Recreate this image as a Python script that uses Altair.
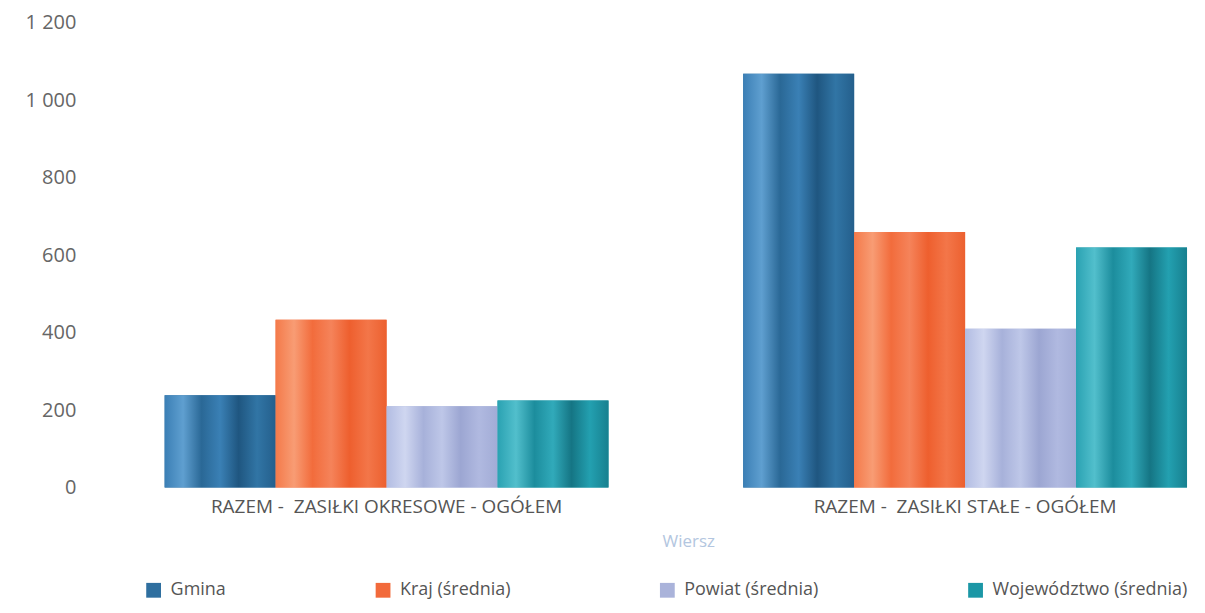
import altair as alt
import pandas as pd

categories = ["RAZEM -\u00a0 ZASIŁKI OKRESOWE - OGÓŁEM", "RAZEM -\u00a0 ZASIŁKI STAŁE - OGÓŁEM"]
series = ["Gmina", "Kraj (średnia)", "Powiat (średnia)", "Województwo (średnia)"]
gmina = [238, 1068]
kraj = [433, 660]
powiat = [210, 410]
wojewodztwo = [225, 620]

base_colors = ["#2f6f9f", "#f26a3b", "#aab3da", "#1b97a6"]
gradients = {
    "Gmina": ["#3b7fb5", "#5f9fd0", "#2a6896", "#3a80b5", "#1f5680", "#3175a5", "#245f8c"],
    "Kraj (średnia)": ["#f47a4a", "#f89c74", "#f26c3c", "#f5835a", "#ee5f2e", "#f37649", "#ec602f"],
    "Powiat (średnia)": ["#b2bce2", "#cfd6f0", "#a7b1da", "#bec7e8", "#9ca6d2", "#b0b9e0", "#a2acd6"],
    "Województwo (średnia)": ["#2aa2b2", "#52bfcc", "#1c8d9d", "#31aaba", "#157584", "#23a0b0", "#17808f"],
}

rows = []
for s, vals in zip(series, [gmina, kraj, powiat, wojewodztwo]):
    for c, v in zip(categories, vals):
        rows.append({"cat": c, "series": s, "value": v})
df = pd.DataFrame(rows)

FONT = "Open Sans"

x_enc = alt.X(
    "cat:N",
    sort=categories,
    scale=alt.Scale(paddingInner=0.2328, paddingOuter=0.069, align=0.9375),
    axis=alt.Axis(
        title="Wiersz",
        labelAngle=0,
        labelFontSize=19,
        labelColor="#555555",
        labelFont=FONT,
        labelPadding=10,
        labelLimit=600,
        titleFontSize=17,
        titleColor="#b3c6e0",
        titleFont=FONT,
        titleFontWeight="normal",
        titlePadding=17,
        titleX=600,
        ticks=False,
        domain=False,
    ),
)
xoff_enc = alt.XOffset("series:N", sort=series,
                       scale=alt.Scale(domain=series, paddingInner=0, paddingOuter=0))
y_enc = alt.Y(
    "value:Q",
    scale=alt.Scale(domain=[0, 1200], nice=False),
    axis=alt.Axis(
        title=None,
        values=[0, 200, 400, 600, 800, 1000, 1200],
        labelExpr="replace(format(datum.value, 'd'), /(\\d)(?=(\\d{3})$)/, '$1 ')",
        labelFontSize=20,
        labelColor="#666666",
        labelFont=FONT,
        labelPadding=14,
        ticks=False,
        domain=False,
        grid=False,
    ),
)

base = alt.Chart(df).encode(x=x_enc, xOffset=xoff_enc, y=y_enc)

bars = base.mark_bar().encode(
    color=alt.Color(
        "series:N",
        sort=series,
        scale=alt.Scale(domain=series, range=base_colors),
        legend=alt.Legend(
            title=None,
            orient="none",
            legendX=55,
            legendY=560,
            direction="horizontal",
            columns=4,
            columnPadding=148,
            gridAlign="none",
            symbolType="square",
            symbolSize=220,
            symbolStrokeWidth=0,
            labelFontSize=18,
            labelColor="#555555",
            labelFont=FONT,
            labelLimit=400,
            labelOffset=8,
        ),
    )
)

overlays = []
for s in series:
    cols = gradients[s]
    n = len(cols)
    stops = [alt.GradientStop(offset=i / (n - 1), color=c) for i, c in enumerate(cols)]
    overlays.append(
        base.transform_filter(alt.datum.series == s).mark_bar(
            fill=alt.LinearGradient(gradient="linear", x1=0, x2=1, y1=0, y2=0, stops=stops)
        )
    )

chart = alt.layer(bars, *overlays).properties(
    width=1105,
    height=466,
    autosize=alt.AutoSizeParams(type="none"),
    padding={"left": 82, "top": 14, "right": 5, "bottom": 118},
).configure(font=FONT).configure_view(stroke=None)

chart.save("out.html", embed_options={"renderer": "svg", "actions": False})
